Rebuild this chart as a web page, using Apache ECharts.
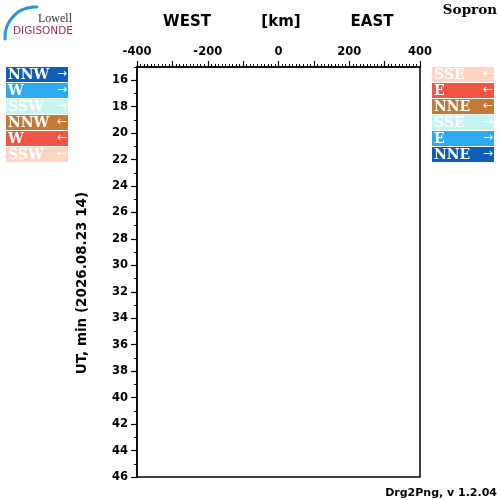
<!DOCTYPE html>
<html>
<head>
<meta charset="utf-8">
<script src="https://cdn.jsdelivr.net/npm/echarts@6/dist/echarts.min.js"></script>
<style>
html,body{margin:0;padding:0;background:#fff;}
#chart{width:500px;height:500px;}
</style>
</head>
<body>
<div id="chart"></div>
<script>
// ---- data ----
var xTickLabels = [-400, -200, 0, 200, 400];
var xMajorTicks = [-400, -300, -200, -100, 0, 100, 200, 300, 400];
var yTickLabels = [16, 18, 20, 22, 24, 26, 28, 30, 32, 34, 36, 38, 40, 42, 44, 46];
var yMinorTicks = [15, 17, 19, 21, 23, 25, 27, 29, 31, 33, 35, 37, 39, 41, 43, 45];
var leftLegendNames = ['NNW', 'W', 'SSW', 'NNW', 'W', 'SSW'];
var leftLegendArrows = ['\u2192', '\u2192', '\u2192', '\u2190', '\u2190', '\u2190'];
var leftLegendColors = ['#0d5eb6', '#2eaaf0', '#c4f5f2', '#c47a34', '#f05545', '#ffd4c2'];
var rightLegendNames = ['SSE', 'E', 'NNE', 'SSE', 'E', 'NNE'];
var rightLegendArrows = ['\u2190', '\u2190', '\u2190', '\u2192', '\u2192', '\u2192'];
var rightLegendColors = ['#ffd4c2', '#f05545', '#c47a34', '#c4f5f2', '#2eaaf0', '#0d5eb6'];
var seriesData = []; // no echoes recorded

var chart = echarts.init(document.getElementById('chart'), null, {renderer: 'canvas'});

var graphics = [];
function legendBlock(x0, names, arrows, colors) {
  for (var i = 0; i < names.length; i++) {
    var y0 = 67 + i * 16;
    graphics.push({
      type: 'rect', shape: {x: x0, y: y0, width: 62, height: 15},
      style: {fill: colors[i]}, silent: true
    });
    graphics.push({
      type: 'text', x: x0 + 2, y: y0 + 8,
      style: {text: names[i], fill: '#fff', font: 'bold 14px "DejaVu Serif"', textVerticalAlign: 'middle', textAlign: 'left'}
    });
    graphics.push({
      type: 'text', x: x0 + 61, y: y0 + 7,
      style: {text: arrows[i], fill: '#fff', font: '12px "DejaVu Sans"', textVerticalAlign: 'middle', textAlign: 'right'}
    });
  }
}
legendBlock(6, leftLegendNames, leftLegendArrows, leftLegendColors);
legendBlock(432, rightLegendNames, rightLegendArrows, rightLegendColors);

// logo
graphics.push({
  type: 'arc', shape: {cx: 35, cy: 37, r: 30, startAngle: Math.PI * 0.98, endAngle: Math.PI * 1.52, clockwise: true},
  style: {stroke: '#2d95cf', lineWidth: 3, fill: null, lineCap: 'round'}
});
graphics.push({
  type: 'text', x: 72, y: 19,
  style: {text: 'Lowell', fill: '#333', font: '12px "Liberation Serif"', textAlign: 'right', textVerticalAlign: 'middle'}
});
graphics.push({
  type: 'text', x: 13, y: 31,
  style: {text: 'DIGISONDE', fill: '#9b2c5e', font: '10.5px "DejaVu Sans"', textAlign: 'left', textVerticalAlign: 'middle'}
});
// titles
graphics.push({type: 'text', x: 187, y: 22, style: {text: 'WEST', fill: '#000', font: 'bold 15px "DejaVu Sans"', textAlign: 'center', textVerticalAlign: 'middle'}});
graphics.push({type: 'text', x: 281, y: 22, style: {text: '[km]', fill: '#000', font: 'bold 15px "DejaVu Sans"', textAlign: 'center', textVerticalAlign: 'middle'}});
graphics.push({type: 'text', x: 372, y: 22, style: {text: 'EAST', fill: '#000', font: 'bold 15px "DejaVu Sans"', textAlign: 'center', textVerticalAlign: 'middle'}});
graphics.push({type: 'text', x: 497, y: 10, style: {text: 'Sopron', fill: '#000', font: 'bold 13.5px "DejaVu Serif"', textAlign: 'right', textVerticalAlign: 'middle'}});
graphics.push({type: 'text', x: 497, y: 493, style: {text: 'Drg2Png, v 1.2.04', fill: '#000', font: 'bold 11px "DejaVu Sans"', textAlign: 'right', textVerticalAlign: 'middle'}});
// y axis title
graphics.push({type: 'text', x: 82, y: 283, rotation: Math.PI / 2,
  style: {text: 'UT, min (2026.08.23 14)', fill: '#000', font: 'bold 13.5px "DejaVu Sans"', textAlign: 'center', textVerticalAlign: 'middle'}});

var labelStyle = {color: '#000', fontWeight: 'bold', fontSize: 11.5, fontFamily: 'DejaVu Sans'};

var option = {
  animation: false,
  backgroundColor: '#fff',
  grid: {left: 137, top: 67, width: 283, height: 410, show: true, borderColor: '#000', borderWidth: 1.5, backgroundColor: 'transparent'},
  xAxis: [{
    type: 'value', position: 'top', min: -400, max: 400, interval: 100,
    axisLine: {show: true, onZero: false, lineStyle: {color: '#000', width: 1.5}},
    axisTick: {show: true, inside: false, length: 6, customValues: xMajorTicks, lineStyle: {color: '#000', width: 1.2}},
    minorTick: {show: true, splitNumber: 10, length: 3, lineStyle: {color: '#000', width: 1}},
    axisLabel: {show: true, customValues: xTickLabels, margin: 9, formatter: function (v) { return String(v); }, ...labelStyle},
    splitLine: {show: false}
  }],
  yAxis: [{
    type: 'value', inverse: true, min: 15, max: 46, position: 'left',
    axisLine: {show: true, onZero: false, lineStyle: {color: '#000', width: 1.5}},
    axisTick: {show: true, length: 6, customValues: yTickLabels, lineStyle: {color: '#000', width: 1.2}},
    axisLabel: {show: true, customValues: yTickLabels, margin: 9, ...labelStyle},
    splitLine: {show: false}
  }, {
    type: 'value', inverse: true, min: 15, max: 46, position: 'left', offset: 0,
    axisLine: {show: false, onZero: false},
    axisTick: {show: true, length: 3, customValues: yMinorTicks, lineStyle: {color: '#000', width: 1}},
    axisLabel: {show: false},
    splitLine: {show: false}
  }],
  series: [{type: 'scatter', data: seriesData, xAxisIndex: 0, yAxisIndex: 0}],
  graphic: graphics
};
chart.setOption(option);
</script>
</body>
</html>
